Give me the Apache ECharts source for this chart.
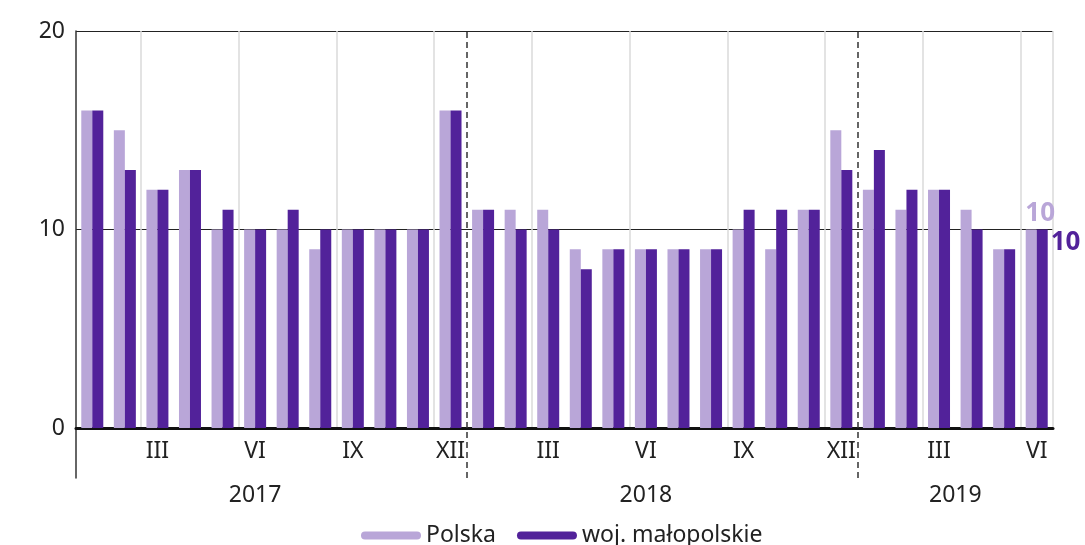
<!DOCTYPE html>
<html>
<head>
<meta charset="utf-8">
<script src="https://cdn.jsdelivr.net/npm/echarts@6/dist/echarts.min.js"></script>
<style>
  html, body { margin: 0; background: #fff; }
  #chart { width: 1085px; height: 545px; }
</style>
</head>
<body>
<div id="chart"></div>
<script>
// miesiace I 2017 - VI 2019
var months = ['I','II','III','IV','V','VI','VII','VIII','IX','X','XI','XII',
              'I','II','III','IV','V','VI','VII','VIII','IX','X','XI','XII',
              'I','II','III','IV','V','VI'];
var years = ['2017', '2018', '2019'];
var yearPos = [5.5, 17.5, 27];
var yearBreaks = [12, 24];

var polska = [16, 15, 12, 13, 10, 10, 10, 9, 10, 10, 10, 16,
              11, 11, 11, 9, 9, 9, 9, 9, 10, 9, 11, 15,
              12, 11, 12, 11, 9, 10];
var malopolskie = [16, 13, 12, 13, 11, 10, 11, 10, 10, 10, 10, 16,
                   11, 10, 10, 8, 9, 9, 9, 9, 11, 11, 11, 13,
                   14, 12, 12, 10, 9, 10];

var cLight = '#b9a6d8';
var cDark = '#52229a';
var font = 'Noto Sans';

function withLastLabel(arr, label) {
  return arr.map(function (v, i) {
    if (i === arr.length - 1) return { value: v, label: label };
    return v;
  });
}

var chart = echarts.init(document.getElementById('chart'));

var option = {
  animation: false,
  textStyle: { fontFamily: font },
  grid: [
    { left: 76, right: 32, top: 31, bottom: 117 },
    { left: 76, right: 32, top: 428, bottom: 67 }
  ],
  legend: {
    left: 356,
    top: 519,
    itemWidth: 60,
    itemHeight: 9,
    itemGap: 21,
    icon: 'path://M4,0 H56 A4,4 0 0 1 56,8 H4 A4,4 0 0 1 4,0 Z',
    textStyle: { fontSize: 23, color: '#222', fontFamily: font },
    data: ['Polska', 'woj. małopolskie']
  },
  xAxis: [
    {
      type: 'category',
      gridIndex: 0,
      data: months,
      axisLine: { lineStyle: { color: '#111', width: 3 } },
      axisTick: { show: false },
      axisLabel: {
        interval: function (i) { return i % 3 === 2; },
        fontSize: 23,
        color: '#222',
        margin: 12
      },
      splitLine: { show: true, lineStyle: { color: '#dadada', width: 1.5 } }
    },
    {
      type: 'value',
      gridIndex: 0,
      min: 0,
      max: 30,
      show: false
    },
    {
      type: 'value',
      gridIndex: 1,
      min: 0,
      max: 30,
      position: 'bottom',
      axisLine: { show: false },
      axisTick: { show: false },
      splitLine: { show: false },
      axisLabel: {
        customValues: yearPos,
        formatter: function (v) { return years[yearPos.indexOf(v)]; },
        fontSize: 23,
        color: '#222',
        margin: 6
      }
    }
  ],
  yAxis: [
    {
      type: 'value',
      gridIndex: 0,
      min: 0,
      max: 20,
      interval: 10,
      axisLine: { show: true, lineStyle: { color: '#333', width: 1.5 } },
      axisTick: { show: false },
      axisLabel: { fontSize: 23, color: '#222', margin: 11 },
      splitLine: { show: true, lineStyle: { color: '#222', width: 1.2 } }
    },
    {
      type: 'value',
      gridIndex: 1,
      min: 0,
      max: 1,
      axisLine: { show: true, lineStyle: { color: '#333', width: 1.5 } },
      axisTick: { show: false },
      axisLabel: { show: false },
      splitLine: { show: false }
    }
  ],
  series: [
    {
      name: 'Polska',
      type: 'bar',
      xAxisIndex: 0,
      yAxisIndex: 0,
      barWidth: 11,
      barGap: '0%',
      itemStyle: { color: cLight },
      data: withLastLabel(polska, {
        show: true, position: 'top', distance: 3, offset: [9, 0],
        color: cLight, fontWeight: 'bold', fontSize: 26, fontFamily: font
      })
    },
    {
      name: 'woj. małopolskie',
      type: 'bar',
      xAxisIndex: 0,
      yAxisIndex: 0,
      barWidth: 11,
      barGap: '0%',
      itemStyle: { color: cDark },
      data: withLastLabel(malopolskie, {
        show: true, position: ['100%', 0], offset: [3, 0],
        color: cDark, fontWeight: 'bold', fontSize: 26, fontFamily: font
      })
    },
    {
      type: 'line',
      xAxisIndex: 1,
      yAxisIndex: 0,
      data: [],
      silent: true,
      markLine: {
        symbol: 'none',
        silent: true,
        label: { show: false },
        lineStyle: { color: '#333', type: [6, 4], width: 1.5 },
        data: yearBreaks.map(function (x) { return { xAxis: x }; })
      }
    },
    {
      type: 'line',
      xAxisIndex: 2,
      yAxisIndex: 1,
      data: [],
      silent: true,
      markLine: {
        symbol: 'none',
        silent: true,
        label: { show: false },
        lineStyle: { color: '#333', type: [6, 4], width: 1.5 },
        data: yearBreaks.map(function (x) { return { xAxis: x }; })
      }
    }
  ]
};

chart.setOption(option);
</script>
</body>
</html>
